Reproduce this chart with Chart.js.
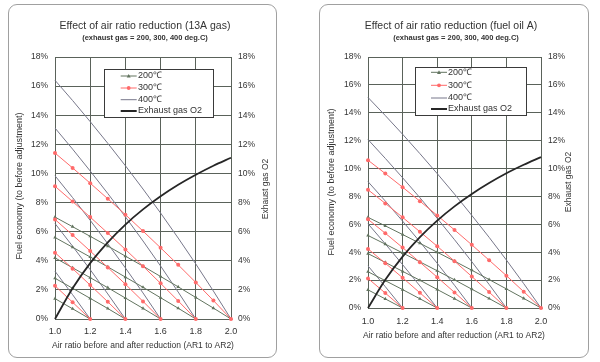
<!DOCTYPE html>
<html><head><meta charset="utf-8">
<script src="https://cdn.jsdelivr.net/npm/chart.js@4.4.0/dist/chart.umd.min.js"></script>
<style>
html,body{margin:0;padding:0;background:#fff;}
#wrap{position:relative;width:600px;height:362px;overflow:hidden;}
.panel{position:absolute;border:1px solid #a0a0a0;border-radius:9px;box-sizing:border-box;}
canvas{position:absolute;top:0;}
</style></head><body>
<div id="wrap">
<div class="panel" style="left:8px;top:4px;width:269px;height:354px"></div>
<div class="panel" style="left:319px;top:4px;width:270px;height:354px"></div>
<canvas id="c1" width="300" height="362" style="left:0"></canvas>
<canvas id="c2" width="300" height="362" style="left:300px"></canvas>
</div>
<script>
// ---- data ----
const AR_STEPS = [1.0,1.1,1.2,1.3,1.4,1.5,1.6,1.7,1.8,1.9,2.0];
const SERIES_LABELS = ['200\u2103','300\u2103','400\u2103','Exhaust gas O2'];

// 13A gas (left chart), fuel economy %, one row per starting air ratio AR1 = 2.0,1.8,1.6,1.4,1.2
const gas_400C = [
 [16.40,15.01,13.56,12.07,10.53,8.93,7.28,5.56,3.78,1.92,0],
 [13.12,11.67,10.17,8.62,7.02,5.36,3.64,1.85,0],
 [9.84,8.34,6.78,5.17,3.51,1.79,0],
 [6.56,5.00,3.39,1.72,0],
 [3.28,1.67,0]];
const gas_300C = [
 [11.40,10.38,9.33,8.26,7.17,6.04,4.89,3.72,2.51,1.27,0],
 [9.12,8.07,7.00,5.90,4.78,3.63,2.45,1.24,0],
 [6.84,5.77,4.67,3.54,2.39,1.21,0],
 [4.56,3.46,2.33,1.18,0],
 [2.28,1.15,0]];
const gas_200C = [
 [7.00,6.34,5.68,5.01,4.32,3.63,2.92,2.21,1.48,0.75,0],
 [5.60,4.93,4.26,3.58,2.88,2.18,1.46,0.74,0],
 [4.20,3.52,2.84,2.15,1.44,0.73,0],
 [2.80,2.11,1.42,0.72,0],
 [1.40,0.70,0]];
const gas_O2 = [0,2.11,3.84,5.27,6.49,7.53,8.43,9.22,9.91,10.53,11.08];

// fuel oil A (right chart)
const oil_400C = [
 [15.10,13.80,12.46,11.07,9.64,8.17,6.64,5.07,3.44,1.75,0],
 [12.08,10.73,9.34,7.91,6.43,4.90,3.32,1.69,0],
 [9.06,7.67,6.23,4.75,3.21,1.63,0],
 [6.04,4.60,3.11,1.58,0],
 [3.02,1.53,0]];
const oil_300C = [
 [10.60,9.64,8.66,7.66,6.64,5.60,4.53,3.43,2.32,1.17,0],
 [8.48,7.50,6.50,5.47,4.43,3.36,2.26,1.14,0],
 [6.36,5.36,4.33,3.28,2.21,1.12,0],
 [4.24,3.21,2.17,1.09,0],
 [2.12,1.07,0]];
const oil_200C = [
 [6.50,5.89,5.27,4.64,4.00,3.36,2.71,2.04,1.37,0.69,0],
 [5.20,4.58,3.95,3.31,2.67,2.02,1.35,0.68,0],
 [3.90,3.27,2.63,1.99,1.33,0.67,0],
 [2.60,1.96,1.32,0.66,0],
 [1.30,0.65,0]];
const oil_O2 = [0,2.02,3.68,5.08,6.27,7.29,8.18,8.96,9.66,10.27,10.82];

// ---- styling ----
const FONT = '"Liberation Sans", Arial, sans-serif';
const C_GRID = '#5a625a';
const C_400 = '#77778a';
const C_300 = '#ff6a6a';
const C_200 = '#62745f';
const C_O2 = '#262626';
const C_TEXT = '#333333';

function pts(arr){ return arr.map((v,i)=>({x:AR_STEPS[i], y:v})); }

function buildDatasets(s200, s300, s400, o2){
  const ds = [];
  ds.push({label:SERIES_LABELS[3], data:pts(o2), yAxisID:'y2', borderColor:C_O2, borderWidth:1.8,
           pointRadius:0, tension:0.35, cubicInterpolationMode:'monotone'});
  s300.forEach(a=>ds.push({label:SERIES_LABELS[1], data:pts(a), yAxisID:'y', borderColor:C_300, borderWidth:1,
           pointStyle:'circle', pointRadius:2, pointBackgroundColor:C_300, pointBorderColor:C_300, pointBorderWidth:0}));
  s200.forEach(a=>ds.push({label:SERIES_LABELS[0], data:pts(a), yAxisID:'y', borderColor:C_200, borderWidth:1,
           pointStyle:'triangle', pointRadius:2.1, pointBackgroundColor:C_200, pointBorderColor:C_200, pointBorderWidth:0}));
  s400.forEach(a=>ds.push({label:SERIES_LABELS[2], data:pts(a), yAxisID:'y', borderColor:C_400, borderWidth:1,
           pointRadius:0}));
  return ds;
}

function decor(cfg){
  return {
    id:'decor',
    afterDraw(chart){
      const ctx = chart.ctx;
      ctx.save();
      ctx.fillStyle = C_TEXT;
      ctx.textAlign = 'center';
      ctx.textBaseline = 'middle';
      ctx.font = '10.5px ' + FONT;
      ctx.fillText(cfg.title, cfg.titleX, 26);
      ctx.font = 'bold 7.5px ' + FONT;
      ctx.fillStyle = '#333';
      ctx.fillText('(exhaust gas = 200, 300, 400 deg.C)', cfg.subX, 38);
      ctx.fillStyle = C_TEXT;
      ctx.font = '8.5px ' + FONT;
      ctx.fillText('Air ratio before and after reduction (AR1 to AR2)', cfg.xtX, cfg.xtY);
      // rotated axis titles
      ctx.save(); ctx.translate(cfg.ytX, cfg.ytY); ctx.rotate(-Math.PI/2);
      ctx.font = '9px ' + FONT;
      ctx.fillText('Fuel economy (to before adjustment)', 0, 0); ctx.restore();
      ctx.save(); ctx.translate(cfg.y2tX, cfg.y2tY); ctx.rotate(-Math.PI/2);
      ctx.font = '8.5px ' + FONT;
      ctx.fillText('Exhaust gas O2', 0, 0); ctx.restore();
      // legend box
      const L = cfg.legend;
      ctx.fillStyle = '#fff';
      ctx.fillRect(L.x, L.y, L.w, L.h);
      ctx.strokeStyle = '#3a3a3a'; ctx.lineWidth = 1;
      ctx.strokeRect(L.x, L.y, L.w, L.h);
      const styles = [
        {c:C_200, w:1, m:'tri'}, {c:C_300, w:1, m:'circ'}, {c:C_400, w:1, m:null}, {c:C_O2, w:2, m:null}];
      ctx.textAlign = 'left'; ctx.textBaseline = 'middle';
      ctx.font = '9px ' + FONT;
      styles.forEach((s,i)=>{
        const y = L.rows[i];
        ctx.strokeStyle = s.c; ctx.lineWidth = s.w;
        ctx.beginPath(); ctx.moveTo(L.sx1, y); ctx.lineTo(L.sx2, y); ctx.stroke();
        const cx = (L.sx1+L.sx2)/2;
        ctx.fillStyle = s.c;
        if (s.m==='circ'){ ctx.beginPath(); ctx.arc(cx,y,1.9,0,Math.PI*2); ctx.fill(); }
        if (s.m==='tri'){ ctx.beginPath(); ctx.moveTo(cx,y-2); ctx.lineTo(cx+2,y+1.6); ctx.lineTo(cx-2,y+1.6); ctx.closePath(); ctx.fill(); }
        ctx.fillStyle = C_TEXT;
        ctx.fillText(SERIES_LABELS[i], L.tx, y);
      });
      ctx.restore();
    }
  };
}

function makeChart(id, datasets, lay, cfg){
  return new Chart(document.getElementById(id), {
    type:'line',
    data:{datasets},
    options:{
      responsive:false, animation:false, devicePixelRatio:1,
      layout:{padding:{top:lay.top, left:0, right:0, bottom:0}},
      plugins:{legend:{display:false}, tooltip:{enabled:false}, title:{display:false}},
      elements:{line:{tension:0}},
      datasets:{line:{clip:false}},
      scales:{
        x:{type:'linear', min:1.0, max:2.0,
           ticks:{stepSize:0.2, padding:lay.xpad, color:C_TEXT, font:{family:FONT, size:9},
                  callback:(v)=>Number(v).toFixed(1)},
           grid:{color:C_GRID, lineWidth:1, drawTicks:false},
           border:{display:true, color:C_GRID},
           afterFit:(s)=>{ s.height = lay.xh; }},
        y:{type:'linear', position:'left', min:0, max:18,
           ticks:{stepSize:2, padding:7, color:C_TEXT, font:{family:FONT, size:8.5}, callback:(v)=>v+'%'},
           grid:{color:C_GRID, lineWidth:1, drawTicks:false},
           border:{display:true, color:C_GRID},
           afterFit:(s)=>{ s.width = lay.yw; }},
        y2:{type:'linear', position:'right', min:0, max:18,
           ticks:{stepSize:2, padding:7, color:C_TEXT, font:{family:FONT, size:8.5}, callback:(v)=>v+'%'},
           grid:{display:false, drawTicks:false},
           border:{display:true, color:C_GRID},
           afterFit:(s)=>{ s.width = lay.y2w; }}
      }
    },
    plugins:[decor(cfg)]
  });
}

makeChart('c1', buildDatasets(gas_200C, gas_300C, gas_400C, gas_O2),
  {top:57, xh:43, yw:55, y2w:69, xpad:7},
  {title:'Effect of air ratio reduction (13A gas)', titleX:145, subX:145,
   xtX:143, xtY:346, ytX:20, ytY:186, y2tX:266, y2tY:189,
   legend:{x:104.5, y:69.5, w:109, h:48, rows:[76,88,99.7,111], sx1:120.7, sx2:136.7, tx:138}});

makeChart('c2', buildDatasets(oil_200C, oil_300C, oil_400C, oil_O2),
  {top:57, xh:54, yw:68, y2w:59, xpad:8},
  {title:'Effect of air ratio reduction (fuel oil A)', titleX:151, subX:156,
   xtX:154, xtY:336, ytX:32, ytY:182, y2tX:269, y2tY:182,
   legend:{x:115.5, y:67.5, w:111, h:48, rows:[72.3,85.3,98,109], sx1:131, sx2:147, tx:148}});
</script>
</body></html>
